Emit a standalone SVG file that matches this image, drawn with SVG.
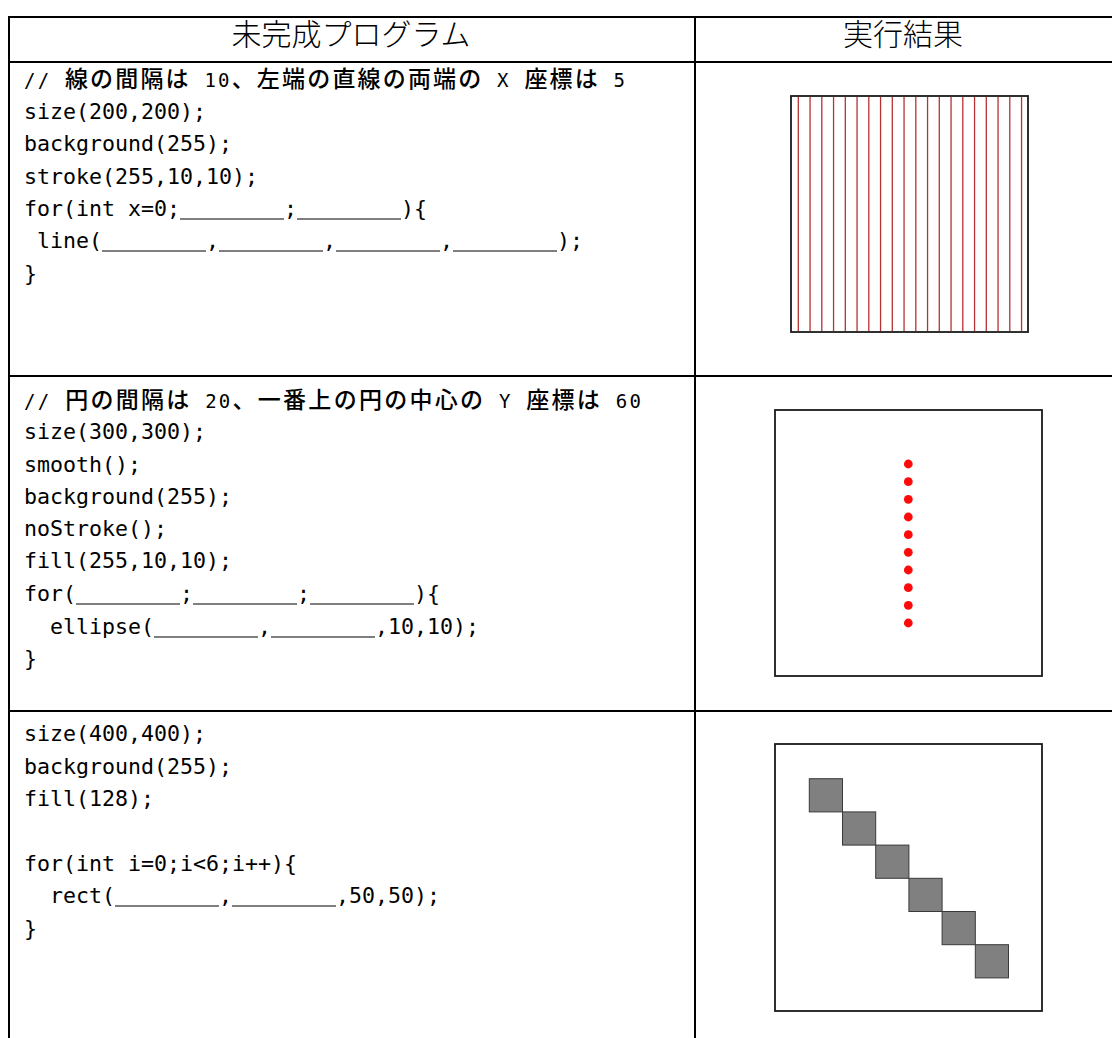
<svg xmlns="http://www.w3.org/2000/svg" width="1112" height="1038" viewBox="0 0 1112 1038">
<style>
.bd{stroke:#000;stroke-width:2;fill:none}
.hd{font-family:"Noto Sans CJK JP","Noto Sans",sans-serif;font-size:30px;font-weight:300;fill:#000;text-anchor:middle}
.code{font-family:"DejaVu Sans Mono","Noto Sans CJK JP",monospace;font-size:21.6px;fill:#000;white-space:pre}
.cmt{font-family:"Noto Sans CJK JP","DejaVu Sans Mono",sans-serif;font-size:23px;font-weight:500;fill:#000;white-space:pre}
.a{font-family:"DejaVu Sans Mono",monospace;font-size:19px;font-weight:400}
.ul{stroke:#000;stroke-width:1.2}
.frame{fill:#fff;stroke:#1a1a1a;stroke-width:1.8}
.rl{stroke:#b83232;stroke-width:1.3}
.dot{fill:#ff0a0a}
.sq{fill:#808080;stroke:#3a3a3a;stroke-width:1}
</style>
<rect width="1112" height="1038" fill="#fff"/>
<g id="table-grid">
<line class="bd" x1="9" y1="17" x2="1112" y2="17"/>
<line class="bd" x1="9" y1="62" x2="1112" y2="62"/>
<line class="bd" x1="9" y1="376" x2="1112" y2="376"/>
<line class="bd" x1="9" y1="711" x2="1112" y2="711"/>
<line class="bd" x1="9" y1="16" x2="9" y2="1038"/>
<line class="bd" x1="695" y1="16" x2="695" y2="1038"/>
</g>
<g id="header">
<text class="hd" x="351" y="45">未完成プログラム</text>
<text class="hd" x="903" y="45">実行結果</text>
</g>
<g id="code-1">
<text class="cmt" x="24" y="87" textLength="601" lengthAdjust="spacing"><tspan class="a">// </tspan>線の間隔は<tspan class="a"> 10</tspan>、左端の直線の両端の<tspan class="a"> X </tspan>座標は<tspan class="a"> 5</tspan></text>
<text class="code" xml:space="preserve" x="24" y="119">size(200,200);</text>
<text class="code" xml:space="preserve" x="24" y="151">background(255);</text>
<text class="code" xml:space="preserve" x="24" y="184">stroke(255,10,10);</text>
<text class="code" xml:space="preserve" x="24" y="216">for(int x=0;        ;        ){</text>
<text class="code" xml:space="preserve" x="24" y="248"> line(        ,        ,        ,        );</text>
<text class="code" xml:space="preserve" x="24" y="281">}</text>
<line class="ul" x1="180" y1="219" x2="284" y2="219"/>
<line class="ul" x1="297" y1="219" x2="401" y2="219"/>
<line class="ul" x1="102" y1="251" x2="206" y2="251"/>
<line class="ul" x1="219" y1="251" x2="323" y2="251"/>
<line class="ul" x1="336" y1="251" x2="440" y2="251"/>
<line class="ul" x1="453" y1="251" x2="557" y2="251"/>
</g>
<g id="result-1">
<rect class="frame" x="791" y="96" width="237" height="236"/>
<g class="rl">
<line x1="798.3" y1="97" x2="798.3" y2="331"/><line x1="810.05" y1="97" x2="810.05" y2="331"/><line x1="821.8" y1="97" x2="821.8" y2="331"/><line x1="833.55" y1="97" x2="833.55" y2="331"/><line x1="845.3" y1="97" x2="845.3" y2="331"/><line x1="857.05" y1="97" x2="857.05" y2="331"/><line x1="868.8" y1="97" x2="868.8" y2="331"/><line x1="880.55" y1="97" x2="880.55" y2="331"/><line x1="892.3" y1="97" x2="892.3" y2="331"/><line x1="904.05" y1="97" x2="904.05" y2="331"/><line x1="915.8" y1="97" x2="915.8" y2="331"/><line x1="927.55" y1="97" x2="927.55" y2="331"/><line x1="939.3" y1="97" x2="939.3" y2="331"/><line x1="951.05" y1="97" x2="951.05" y2="331"/><line x1="962.8" y1="97" x2="962.8" y2="331"/><line x1="974.55" y1="97" x2="974.55" y2="331"/><line x1="986.3" y1="97" x2="986.3" y2="331"/><line x1="998.05" y1="97" x2="998.05" y2="331"/><line x1="1009.8" y1="97" x2="1009.8" y2="331"/><line x1="1021.55" y1="97" x2="1021.55" y2="331"/>
</g>
</g>
<g id="code-2">
<text class="cmt" x="24" y="408" textLength="617" lengthAdjust="spacing"><tspan class="a">// </tspan>円の間隔は<tspan class="a"> 20</tspan>、一番上の円の中心の<tspan class="a"> Y </tspan>座標は<tspan class="a"> 60</tspan></text>
<text class="code" xml:space="preserve" x="24" y="439">size(300,300);</text>
<text class="code" xml:space="preserve" x="24" y="472">smooth();</text>
<text class="code" xml:space="preserve" x="24" y="504">background(255);</text>
<text class="code" xml:space="preserve" x="24" y="536">noStroke();</text>
<text class="code" xml:space="preserve" x="24" y="568">fill(255,10,10);</text>
<text class="code" xml:space="preserve" x="24" y="601">for(        ;        ;        ){</text>
<text class="code" xml:space="preserve" x="24" y="634">  ellipse(        ,        ,10,10);</text>
<text class="code" xml:space="preserve" x="24" y="666">}</text>
<line class="ul" x1="76" y1="604" x2="180" y2="604"/>
<line class="ul" x1="193" y1="604" x2="297" y2="604"/>
<line class="ul" x1="310" y1="604" x2="414" y2="604"/>
<line class="ul" x1="154" y1="637" x2="258" y2="637"/>
<line class="ul" x1="271" y1="637" x2="375" y2="637"/>
</g>
<g id="result-2">
<rect class="frame" x="775" y="410" width="267" height="266"/>
<circle class="dot" cx="908.3" cy="464" r="4.4"/>
<circle class="dot" cx="908.3" cy="481.7" r="4.4"/>
<circle class="dot" cx="908.3" cy="499.3" r="4.4"/>
<circle class="dot" cx="908.3" cy="517" r="4.4"/>
<circle class="dot" cx="908.3" cy="534.7" r="4.4"/>
<circle class="dot" cx="908.3" cy="552.3" r="4.4"/>
<circle class="dot" cx="908.3" cy="570" r="4.4"/>
<circle class="dot" cx="908.3" cy="587.7" r="4.4"/>
<circle class="dot" cx="908.3" cy="605.3" r="4.4"/>
<circle class="dot" cx="908.3" cy="623" r="4.4"/>
</g>
<g id="code-3">
<text class="code" xml:space="preserve" x="24" y="741">size(400,400);</text>
<text class="code" xml:space="preserve" x="24" y="774">background(255);</text>
<text class="code" xml:space="preserve" x="24" y="806">fill(128);</text>
<text class="code" xml:space="preserve" x="24" y="871">for(int i=0;i&lt;6;i++){</text>
<text class="code" xml:space="preserve" x="24" y="903">  rect(        ,        ,50,50);</text>
<text class="code" xml:space="preserve" x="24" y="936">}</text>
<line class="ul" x1="115" y1="906" x2="219" y2="906"/>
<line class="ul" x1="232" y1="906" x2="336" y2="906"/>
</g>
<g id="result-3">
<rect class="frame" x="775" y="744" width="267" height="267"/>
<rect class="sq" x="809.3" y="778.7" width="33.2" height="33.2"/>
<rect class="sq" x="842.5" y="811.9" width="33.2" height="33.2"/>
<rect class="sq" x="875.7" y="845.1" width="33.2" height="33.2"/>
<rect class="sq" x="908.9" y="878.3" width="33.2" height="33.2"/>
<rect class="sq" x="942.1" y="911.5" width="33.2" height="33.2"/>
<rect class="sq" x="975.3" y="944.7" width="33.2" height="33.2"/>
</g>
</svg>
